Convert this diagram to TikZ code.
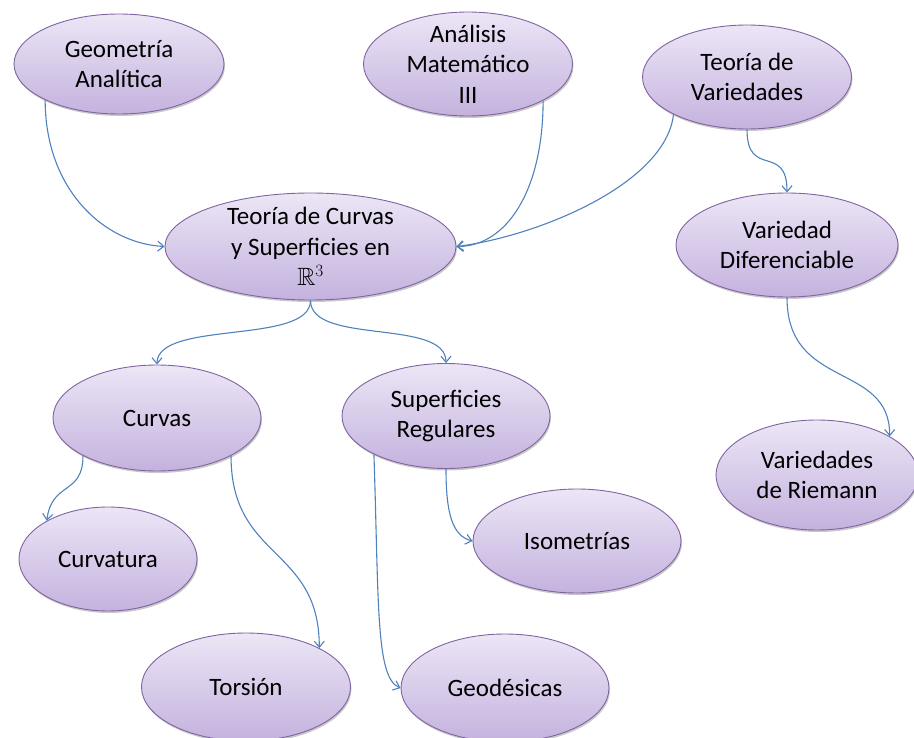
\documentclass[tikz,border=0pt]{standalone}
\usepackage{amssymb}
\usepackage{fontspec}
\setmainfont{Carlito}
\usetikzlibrary{shapes.geometric,arrows.meta,shadows}
\definecolor{bubtop}{RGB}{236,230,246}
\definecolor{bubbot}{RGB}{196,178,222}
\definecolor{bubline}{RGB}{128,100,162}
\definecolor{arrowblue}{RGB}{79,129,189}
\begin{document}
\begin{tikzpicture}[x=1pt,y=-1pt,
  bub/.style={ellipse, draw=bubline, line width=0.9pt, top color=bubtop, bottom color=bubbot,
    inner sep=0pt, drop shadow={shadow xshift=1pt, shadow yshift=-2pt, opacity=0.3, fill=black!70}},
  txt/.style={font=\fontsize{25}{30.5}\selectfont, align=center, inner sep=0pt, text=black},
  con/.style={draw=arrowblue, line width=1.1pt, -{Straight Barb[length=6pt,width=10pt]}}]
\useasboundingbox (0,0) rectangle (914,738);

\node[bub, minimum width=210pt, minimum height=100pt, label={[txt]center:Geometría\\Analítica}] (geo) at (119,64) {};
\node[bub, minimum width=209pt, minimum height=104pt, label={[txt]center:Análisis\\Matemático\\III}] (ana) at (468,64) {};
\node[bub, minimum width=209pt, minimum height=104pt, label={[txt]center:Teoría de\\Variedades}] (tvar) at (747,77) {};
\node[bub, minimum width=291pt, minimum height=107pt, label={[txt]center:Teoría de Curvas\\y Superficies en\\$\mathbb{R}^3$}] (cen) at (310.5,246.5) {};
\node[bub, minimum width=222pt, minimum height=104pt, label={[txt]center:Variedad\\Diferenciable}] (var) at (787,245) {};
\node[bub, minimum width=202pt, minimum height=110pt, label={[txt]center:Variedades\\de Riemann}] (riem) at (817,475) {};
\node[bub, minimum width=208pt, minimum height=106pt, label={[txt]center:Curvas}] (curvas) at (157,418) {};
\node[bub, minimum width=208pt, minimum height=105pt, label={[txt]center:Superficies\\Regulares}] (sup) at (446,416) {};
\node[bub, minimum width=178pt, minimum height=104pt, label={[txt]center:Curvatura}] (curvat) at (108,559) {};
\node[bub, minimum width=208pt, minimum height=104pt, label={[txt]center:Isometrías}] (iso) at (577,541) {};
\node[bub, minimum width=209pt, minimum height=108pt, label={[txt]center:Torsión}] (tors) at (246,687) {};
\node[bub, minimum width=208pt, minimum height=108pt, label={[txt]center:Geodésicas}] (geod) at (505,688) {};

\draw[con] (geo.206) .. controls +(0,90) and +(-60,-3) .. (cen.west);
\draw[con] (ana.-26) .. controls +(0,90) and +(50,0) .. (cen.east);
\draw[con] (tvar.207) .. controls +(-8,70) and +(80,-10) .. (cen.east);
\draw[con] (tvar.south) .. controls +(0,50) and +(0,-50) .. (var.north);
\draw[con] (cen.south) .. controls +(0,45) and +(0,-45) .. (curvas.north);
\draw[con] (cen.south) .. controls +(0,45) and +(0,-45) .. (sup.north);
\draw[con] (curvas.207) .. controls +(0,40) and +(5,-40) .. (curvat.148);
\draw[con] (curvas.-27) .. controls +(0,105) and +(0,-102) .. (tors.28);
\draw[con] (sup.208) .. controls +(5,150) and +(-25,-10) .. (geod.west);
\draw[con] (sup.south) .. controls +(0,45) and +(-20,-5) .. (iso.west);
\draw[con] (var.south) .. controls +(0,93) and +(0,-75) .. (riem.28);
\end{tikzpicture}
\end{document}
